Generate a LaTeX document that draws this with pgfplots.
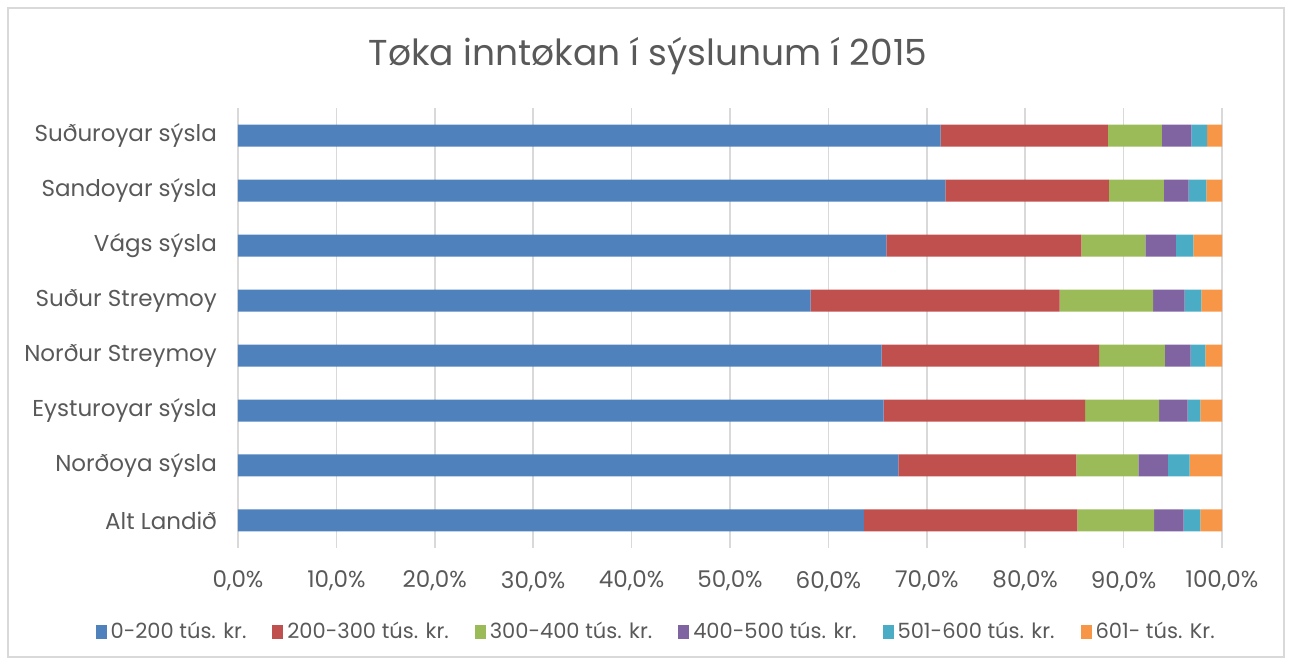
\documentclass[border=0pt]{standalone}
\usepackage{fontspec}
\setmainfont{Poppins}
\usepackage{pgfplots}
\pgfplotsset{compat=1.18}

\definecolor{c1}{HTML}{4F81BD}
\definecolor{c2}{HTML}{C0504D}
\definecolor{c3}{HTML}{9BBB59}
\definecolor{c4}{HTML}{8064A2}
\definecolor{c5}{HTML}{4BACC6}
\definecolor{c6}{HTML}{F79646}
\definecolor{txt}{HTML}{595959}
\definecolor{gridc}{HTML}{D9D9D9}

\begin{document}
\begin{tikzpicture}[x=1pt,y=1pt]
\path[use as bounding box] (-119,-58) rectangle (527,274);
\draw[gridc,line width=0.7pt] (-115,-54.5) rectangle (523,270);
\begin{axis}[
    at={(0,0)}, anchor=south west,
    clip=false,
    xbar stacked,
    width=492pt, height=220pt, scale only axis,
    xmin=0, xmax=100, ymin=-0.5, ymax=7.5,
    bar width=0.4,
    ytick={0,...,7},
    yticklabels={Alt Landið,Norðoya sýsla,Eysturoyar sýsla,Norður Streymoy,Suður Streymoy,Vágs sýsla,Sandoyar sýsla,Suðuroyar sýsla},
    xtick={0,10,...,100},
    xticklabel={\pgfmathprintnumber[fixed,fixed zerofill,precision=1,use comma]{\tick}\%},
    /pgf/number format/assume math mode=true,
    xmajorgrids, grid style={gridc,line width=0.8pt},
    axis line style={draw=none},
    major tick length=0pt,
    tick label style={font=\fontsize{11.5}{14}\selectfont, text=txt},
    yticklabel style={xshift=-7pt},
    xticklabel style={yshift=-8pt},
    legend columns=6,
    legend cell align=left,
    legend style={draw=none, at={(0.426,-0.19)}, anchor=center,
        font=\fontsize{10.5}{12}\selectfont, text=txt,
        /tikz/every even column/.append style={column sep=11pt}},
    legend image code/.code={\fill[#1] (0pt,-3.5pt) rectangle (5.5pt,3.5pt);},
]
\addplot[fill=c1, draw=none] coordinates {(63.6,0) (67.1,1) (65.6,2) (65.4,3) (58.2,4) (65.9,5) (71.9,6) (71.4,7)};
\addlegendentry{0-200 tús. kr.}
\addplot[fill=c2, draw=none] coordinates {(21.7,0) (18.1,1) (20.5,2) (22.1,3) (25.3,4) (19.8,5) (16.6,6) (17.0,7)};
\addlegendentry{200-300 tús. kr.}
\addplot[fill=c3, draw=none] coordinates {(7.8,0) (6.3,1) (7.5,2) (6.7,3) (9.5,4) (6.5,5) (5.6,6) (5.5,7)};
\addlegendentry{300-400 tús. kr.}
\addplot[fill=c4, draw=none] coordinates {(3.0,0) (3.0,1) (2.9,2) (2.6,3) (3.2,4) (3.1,5) (2.5,6) (3.0,7)};
\addlegendentry{400-500 tús. kr.}
\addplot[fill=c5, draw=none] coordinates {(1.7,0) (2.2,1) (1.3,2) (1.5,3) (1.7,4) (1.8,5) (1.8,6) (1.6,7)};
\addlegendentry{501-600 tús. kr.}
\addplot[fill=c6, draw=none] coordinates {(2.2,0) (3.3,1) (2.2,2) (1.7,3) (2.1,4) (2.9,5) (1.6,6) (1.5,7)};
\addlegendentry{601- tús. Kr.}
\node[text=txt, font=\fontsize{18}{22}\selectfont] at (rel axis cs:0.4167,1.118) {Tøka inntøkan í sýslunum í 2015};
\end{axis}
\end{tikzpicture}
\end{document}
